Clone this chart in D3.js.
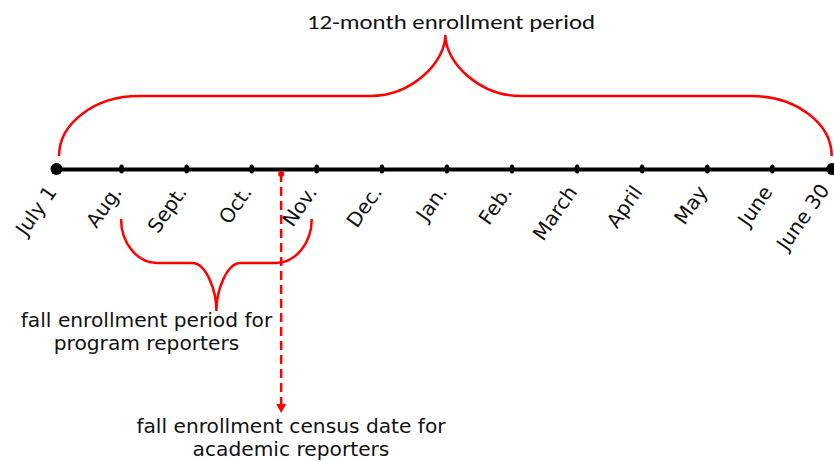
<!DOCTYPE html>
<html>
<head>
<meta charset="utf-8">
<script src="https://cdn.jsdelivr.net/npm/d3@7"></script>
<style>
  body { margin: 0; background: #fff; }
  svg { display: block; }
</style>
</head>
<body>
<svg width="834" height="461"></svg>
<script>
// month marks along the year, in month units from July 1
const months = ["July 1", "Aug.", "Sept.", "Oct.", "Nov.", "Dec.", "Jan.", "Feb.", "March", "April", "May", "June", "June 30"];
const monthPos = [0, 1, 2, 3, 4, 5, 6, 7, 8, 9, 10, 11, 11.92];

const yearLabel = "12-month enrollment period";
const fallPeriod = [1, 3.93];          // Aug. to just before Nov.
const fallLabel = ["fall enrollment period for", "program reporters"];
const censusPos = 3.46;                // mid October
const censusLabel = ["fall enrollment census date for", "academic reporters"];

const svg = d3.select("svg");
const red = "#ff0000";
const lineY = 169;

const x = d3.scaleLinear().domain([0, 11.92]).range([56, 831.7]);

// curly brace: free ends at yEnd, bar at yBar, point at yTip
function brace(x0, x1, yEnd, yBar, yTip, cw, tw) {
  const k = 0.55, xc = (x0 + x1) / 2;
  const ye = yEnd + k * (yBar - yEnd), yt = yBar + k * (yTip - yBar);
  return `M${x0},${yEnd} C${x0},${ye} ${x0 + cw * (1 - k)},${yBar} ${x0 + cw},${yBar}`
    + ` L${xc - tw},${yBar} C${xc - tw * (1 - k)},${yBar} ${xc},${yt} ${xc},${yTip}`
    + ` C${xc},${yt} ${xc + tw * (1 - k)},${yBar} ${xc + tw},${yBar}`
    + ` L${x1 - cw},${yBar} C${x1 - cw * (1 - k)},${yBar} ${x1},${ye} ${x1},${yEnd}`;
}

// 12 month brace
svg.append("path")
  .attr("d", brace(x(monthPos[0]) + 3, x(monthPos[12]), 156, 96, 35, 80, 75))
  .attr("fill", "none").attr("stroke", red).attr("stroke-width", 2.5);

svg.append("text")
  .attr("x", 451).attr("y", 29)
  .attr("text-anchor", "middle")
  .style("font-family", "Carlito, 'Liberation Sans Narrow', 'Liberation Sans', sans-serif")
  .style("font-size", "21px")
  .attr("textLength", 288).attr("lengthAdjust", "spacingAndGlyphs")
  .attr("fill", "#111")
  .text(yearLabel);

// timeline axis
const axis = d3.axisBottom(x)
  .tickValues(monthPos)
  .tickFormat((d, i) => months[i])
  .tickSize(0)
  .tickSizeOuter(0);

const ax = svg.append("g")
  .attr("transform", `translate(0,${lineY})`)
  .call(axis);

ax.select(".domain").attr("stroke", "#000").attr("stroke-width", 4);
ax.selectAll(".tick text")
  .attr("x", 0).attr("y", 0).attr("dy", null)
  .attr("transform", (d, i) => i === 12 ? "translate(-2,21) rotate(-55)" : "translate(1,23) rotate(-55)")
  .attr("text-anchor", "end")
  .style("font-family", "'DejaVu Sans', Verdana, sans-serif")
  .style("font-size", "20px")
  .attr("fill", "#111");

ax.selectAll(".tick").append("ellipse")
  .attr("rx", (d, i) => (i === 0 || i === 12) ? 6 : 2.5)
  .attr("ry", (d, i) => (i === 0 || i === 12) ? 6 : 4.5)
  .attr("fill", "#000");

// fall period brace
svg.append("path")
  .attr("d", brace(x(fallPeriod[0]), x(fallPeriod[1]), 219, 263, 311, 36, 24))
  .attr("fill", "none").attr("stroke", red).attr("stroke-width", 2.5);

svg.append("g").selectAll("text").data(fallLabel).join("text")
  .attr("x", 146.5).attr("y", (d, i) => 327 + i * 23)
  .attr("text-anchor", "middle")
  .style("font-family", "'DejaVu Sans', Verdana, sans-serif")
  .style("font-size", "20.2px")
  .attr("fill", "#111")
  .text(d => d);

// census date arrow
const cx = x(censusPos);
svg.append("line")
  .attr("x1", cx).attr("x2", cx).attr("y1", 173).attr("y2", 405)
  .attr("stroke", red).attr("stroke-width", 2.5).attr("stroke-dasharray", "9,5");
svg.append("circle").attr("cx", cx).attr("cy", 174).attr("r", 3).attr("fill", red);
svg.append("path")
  .attr("d", `M${cx - 5},404 L${cx + 5},404 L${cx},413 Z`)
  .attr("fill", red);

svg.append("g").selectAll("text").data(censusLabel).join("text")
  .attr("x", 291).attr("y", (d, i) => 433 + i * 23)
  .attr("text-anchor", "middle")
  .style("font-family", "'DejaVu Sans', Verdana, sans-serif")
  .style("font-size", "20.2px")
  .attr("fill", "#111")
  .text(d => d);
</script>
</body>
</html>
